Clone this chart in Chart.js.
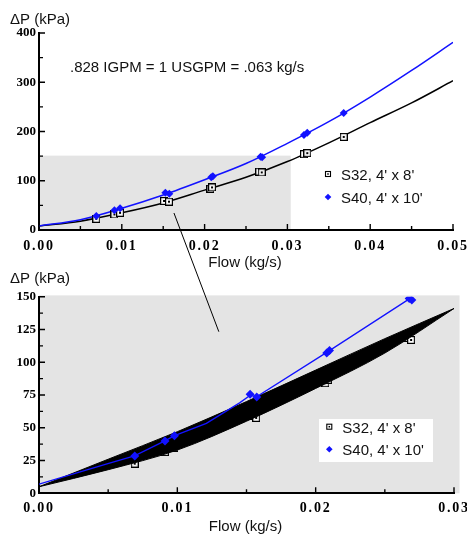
<!DOCTYPE html>
<html>
<head>
<meta charset="utf-8">
<script src="https://cdn.jsdelivr.net/npm/chart.js@4.4.0/dist/chart.umd.min.js"></script>
<style>
html, body { margin: 0; padding: 0; background: #fff; overflow: hidden; }
#wrap { position: relative; width: 467px; height: 538px; overflow: hidden; }
#wrap canvas { position: absolute; left: 0; }
#top-chart { top: 0; }
#zoom-chart { top: 272px; }
#connector { top: 0; pointer-events: none; }
</style>
</head>
<body>
<div id="wrap">
  <canvas id="top-chart" width="480" height="272"></canvas>
  <canvas id="zoom-chart" width="480" height="266"></canvas>
  <canvas id="connector" width="467" height="538"></canvas>
</div>
<script>
// Measured points
const s32Label = "S32, 4' x 8'";
const s32Flow = [0.00692, 0.00911, 0.00979, 0.0151, 0.0157, 0.0207, 0.0209, 0.0266, 0.0269, 0.0320, 0.0324, 0.0368];
const s32DP = [22.6, 31.5, 34.8, 59, 57.5, 84, 86.5, 118.5, 117, 154, 156, 189];

const s40Label = "S40, 4' x 10'";
const s40Flow = [0.00692, 0.00911, 0.00979, 0.01526, 0.01574, 0.0208, 0.0210, 0.02676, 0.02695, 0.0320, 0.0324, 0.0368];
const s40DP = [28.5, 39.9, 44, 75.5, 73.5, 107, 109, 148.7, 147.5, 193, 197.6, 237.6];

// Fitted curves (full range panel)
const fitFlow = [0, 0.005, 0.01, 0.015, 0.02, 0.025, 0.03, 0.035, 0.04, 0.045, 0.05];
const s32FitDP = [8, 18, 35, 55, 81, 107, 139, 177, 218, 258, 303];
const s40FitDP = [8, 21, 44, 71, 102, 135, 176, 220, 270, 324, 381];

// Zoom panel: S40 line and the black S32 band
const zoomBlueFlow = [0, 0.0051, 0.0069, 0.0091, 0.0098, 0.0121, 0.0145, 0.0153, 0.0157, 0.0208, 0.0268];
const zoomBlueDP = [7, 23, 28.5, 40, 44, 53.4, 69, 75, 73.5, 107.5, 148.5];
const bandFlow = [0, 0.005, 0.01, 0.015, 0.02, 0.025, 0.03];
const bandUpper = [5, 26, 47, 70, 94, 118, 141];
const bandLower = [5, 18, 33, 55, 80, 107, 141];

// Zoom window and connector
const zoomFlow = [0, 0.0304];
const zoomDP = [0, 151];
const connFlow = [0.0163, 0.0130];
const connDP = [34.5, 123.3];

// Tick labels
const topXTicks = [0, 0.01, 0.02, 0.03, 0.04, 0.05];
const topYTicks = [0, 100, 200, 300, 400];
const zoomXTicks = [0, 0.01, 0.02, 0.03];
const zoomYTicks = [0, 25, 50, 75, 100, 125, 150];

const noteText = '.828 IGPM = 1 USGPM = .063 kg/s';
const yTitle = '\u0394P (kPa)';
const xTitle = 'Flow (kg/s)';

const BLUE = '#1212ff';
const GRAY = '#e4e4e4';
const TEXT_FONT = '15px "Liberation Sans", Arial, sans-serif';
const TICK_FAMILY = '"Liberation Serif", "Times New Roman", serif';

function pts(xs, ys) {
    return xs.map((x, i) => ({ x: x, y: ys[i] }));
}

function midpoints(arr) {
    const out = [];
    for (let i = 0; i < arr.length - 1; i++) out.push((arr[i] + arr[i + 1]) / 2);
    return out;
}

function makeSquare(size) {
    const c = document.createElement('canvas');
    c.width = c.height = size;
    const g = c.getContext('2d');
    g.fillStyle = '#fff';
    g.fillRect(0, 0, size, size);
    g.strokeStyle = '#000';
    g.lineWidth = 1.2;
    g.strokeRect(0.6, 0.6, size - 1.2, size - 1.2);
    g.fillStyle = '#000';
    g.fillRect(size / 2 - 1, size / 2 - 1, 2, 2);
    return c;
}
const squareImg = makeSquare(8);

function drawLegendSquare(ctx, x, y, s) {
    ctx.fillStyle = '#fff';
    ctx.fillRect(x - s / 2, y - s / 2, s, s);
    ctx.strokeStyle = '#000';
    ctx.lineWidth = 1.1;
    ctx.strokeRect(x - s / 2, y - s / 2, s, s);
    ctx.fillStyle = '#000';
    ctx.fillRect(x - 0.75, y - 0.75, 1.5, 1.5);
}

function drawLegendDiamond(ctx, x, y, r) {
    ctx.fillStyle = BLUE;
    ctx.beginPath();
    ctx.moveTo(x, y - r);
    ctx.lineTo(x + r, y);
    ctx.lineTo(x, y + r);
    ctx.lineTo(x - r, y);
    ctx.closePath();
    ctx.fill();
}

// Gray zoom window, inward ticks, titles and legend
const panelDecor = {
    id: 'panelDecor',
    beforeDraw(chart) {
        const { ctx, scales: { x, y } } = chart;
        ctx.letterSpacing = '0px';
        ctx.save();
        const x0 = x.getPixelForValue(zoomFlow[0]);
        const x1 = x.getPixelForValue(zoomFlow[1]);
        const y0 = y.getPixelForValue(zoomDP[0]);
        const y1 = y.getPixelForValue(zoomDP[1]);
        ctx.fillStyle = GRAY;
        ctx.fillRect(x0, y1, x1 - x0, y0 - y1);
        ctx.restore();
    },
    afterDatasetsDraw(chart) {
        // x tick labels are drawn after this (ticks.z = 1), spaced out like the original
        chart.ctx.letterSpacing = '1.8px';
    },
    afterDraw(chart, args, opts) {
        const { ctx, chartArea: area, scales: { x, y } } = chart;
        ctx.save();
        ctx.letterSpacing = '0px';

        // inward tick marks
        ctx.strokeStyle = '#000';
        ctx.lineWidth = 1.4;
        ctx.beginPath();
        opts.xTicks.forEach(v => {
            const px = x.getPixelForValue(v);
            ctx.moveTo(px, area.bottom);
            ctx.lineTo(px, area.bottom - 6);
        });
        midpoints(opts.xTicks).forEach(v => {
            const px = x.getPixelForValue(v);
            ctx.moveTo(px, area.bottom);
            ctx.lineTo(px, area.bottom - 4);
        });
        opts.yTicks.forEach(v => {
            const py = y.getPixelForValue(v);
            ctx.moveTo(area.left, py);
            ctx.lineTo(area.left + 6, py);
        });
        midpoints(opts.yTicks).forEach(v => {
            const py = y.getPixelForValue(v);
            ctx.moveTo(area.left, py);
            ctx.lineTo(area.left + 4, py);
        });
        ctx.stroke();

        // titles
        ctx.fillStyle = '#111';
        ctx.font = TEXT_FONT;
        ctx.textBaseline = 'alphabetic';
        ctx.textAlign = 'left';
        ctx.fillText(yTitle, 10, opts.yTitleY);
        ctx.textAlign = 'center';
        ctx.fillText(xTitle, (area.left + area.right) / 2 - 1, area.bottom + opts.xTitleGap);
        if (opts.note) {
            ctx.textAlign = 'left';
            ctx.fillText(opts.note, area.left + 31, area.top + 39);
        }

        // legend
        const lg = opts.legend;
        if (lg.box) {
            ctx.fillStyle = '#fff';
            ctx.fillRect(lg.box[0], lg.box[1], lg.box[2], lg.box[3]);
        }
        const sets = chart.data.datasets.filter(d => d.inLegend);
        sets.forEach((d, i) => {
            const cy = lg.y + i * lg.step;
            if (d.pointStyle === 'rectRot') drawLegendDiamond(ctx, lg.x, cy, 3.3);
            else drawLegendSquare(ctx, lg.x, cy, 5);
            ctx.fillStyle = '#111';
            ctx.font = TEXT_FONT;
            ctx.textAlign = 'left';
            ctx.textBaseline = 'alphabetic';
            ctx.fillText(d.label, lg.x + 13, cy + 6);
        });
        ctx.restore();
    }
};

function makeScales(xMax, yMax, xTicks, yTicks, xPad) {
    return {
        x: {
            type: 'linear',
            min: 0,
            max: xMax,
            afterBuildTicks: s => { s.ticks = xTicks.map(v => ({ value: v })); },
            afterFit: s => { s.height = 20; },
            grid: { display: false, drawTicks: false },
            border: { display: true, color: '#000', width: 2 },
            ticks: {
                z: 1,
                padding: xPad,
                color: '#000',
                font: { family: TICK_FAMILY, size: 14, weight: 'bold' },
                callback: v => Number(v).toFixed(2),
                maxRotation: 0,
                autoSkip: false
            }
        },
        y: {
            type: 'linear',
            min: 0,
            max: yMax,
            afterBuildTicks: s => { s.ticks = yTicks.map(v => ({ value: v })); },
            afterFit: s => { s.width = 39; },
            grid: { display: false, drawTicks: false },
            border: { display: true, color: '#000', width: 2 },
            ticks: {
                padding: 3,
                color: '#000',
                font: { family: TICK_FAMILY, size: 13, weight: 'bold' },
                callback: v => String(v),
                autoSkip: false
            }
        }
    };
}

const topChart = new Chart(document.getElementById('top-chart'), {
    type: 'scatter',
    data: {
        datasets: [
            {
                label: 'S32 fit', data: pts(fitFlow, s32FitDP), showLine: true,
                borderColor: '#000', borderWidth: 1.5, pointRadius: 0,
                cubicInterpolationMode: 'monotone', order: 4
            },
            {
                label: 'S40 fit', data: pts(fitFlow, s40FitDP), showLine: true,
                borderColor: BLUE, borderWidth: 1.5, pointRadius: 0,
                cubicInterpolationMode: 'monotone', order: 3
            },
            {
                label: s32Label, data: pts(s32Flow, s32DP), inLegend: true,
                pointStyle: squareImg, pointRadius: 4, order: 2
            },
            {
                label: s40Label, data: pts(s40Flow, s40DP), inLegend: true,
                pointStyle: 'rectRot', pointRadius: 4, borderWidth: 0,
                backgroundColor: BLUE, borderColor: BLUE, order: 1
            }
        ]
    },
    options: {
        responsive: false,
        animation: false,
        devicePixelRatio: 1,
        layout: { padding: { left: 0, top: 33, right: 27, bottom: 22 } },
        scales: makeScales(0.05, 400, topXTicks, topYTicks, 8),
        plugins: {
            legend: { display: false },
            tooltip: { enabled: false },
            panelDecor: {
                xTicks: topXTicks, yTicks: topYTicks,
                yTitleY: 24, xTitleGap: 37, note: noteText,
                legend: { x: 328, y: 174, step: 23, box: null }
            }
        }
    },
    plugins: [panelDecor]
});

const zoomChart = new Chart(document.getElementById('zoom-chart'), {
    type: 'scatter',
    data: {
        datasets: [
            {
                label: s32Label, data: pts(s32Flow, s32DP), inLegend: true,
                pointStyle: squareImg, pointRadius: 4, order: 4
            },
            {
                label: 'S32 band top', data: pts(bandFlow, bandUpper), showLine: true,
                borderColor: '#000', borderWidth: 1, pointRadius: 0,
                cubicInterpolationMode: 'monotone', order: 3
            },
            {
                label: 'S32 band', data: pts(bandFlow, bandLower), showLine: true,
                borderColor: '#000', borderWidth: 1, pointRadius: 0,
                cubicInterpolationMode: 'monotone',
                fill: '-1', backgroundColor: '#000', order: 2
            },
            {
                label: s40Label, data: pts(s40Flow, s40DP), inLegend: true,
                pointStyle: 'rectRot', pointRadius: 4.5, borderWidth: 0,
                backgroundColor: BLUE, borderColor: BLUE, order: 1
            },
            {
                label: 'S40 line', data: pts(zoomBlueFlow, zoomBlueDP), showLine: true,
                borderColor: BLUE, borderWidth: 1.3, pointRadius: 0, order: 0
            }
        ]
    },
    options: {
        responsive: false,
        animation: false,
        devicePixelRatio: 1,
        layout: { padding: { left: 0, top: 24.7, right: 26, bottom: 24.7 } },
        scales: makeScales(0.03, 150, zoomXTicks, zoomYTicks, 7),
        plugins: {
            legend: { display: false },
            tooltip: { enabled: false },
            filler: { propagate: false },
            panelDecor: {
                xTicks: zoomXTicks, yTicks: zoomYTicks,
                yTitleY: 11.3, xTitleGap: 38, note: null,
                legend: { x: 329.3, y: 154.7, step: 22.6, box: [319, 147, 114, 43] }
            }
        }
    },
    plugins: [panelDecor]
});

// Connector from the zoom window in the top panel to the zoom panel
(function drawConnector() {
    const top = topChart.scales;
    const zoom = zoomChart.scales;
    const zoomOffset = document.getElementById('zoom-chart').offsetTop;
    const x1 = top.x.getPixelForValue(connFlow[0]);
    const y1 = top.y.getPixelForValue(connDP[0]);
    const x2 = zoom.x.getPixelForValue(connFlow[1]);
    const y2 = zoomOffset + zoom.y.getPixelForValue(connDP[1]);
    const ctx = document.getElementById('connector').getContext('2d');
    ctx.strokeStyle = '#000';
    ctx.lineWidth = 1;
    ctx.beginPath();
    ctx.moveTo(x1, y1);
    ctx.lineTo(x2, y2);
    ctx.stroke();
})();
</script>
</body>
</html>
